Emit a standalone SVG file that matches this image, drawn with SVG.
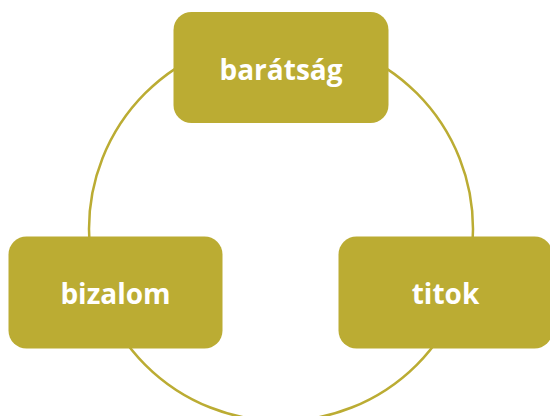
<svg xmlns="http://www.w3.org/2000/svg" width="550" height="416" viewBox="0 0 550 416">
<style>
.node rect{fill:#bbac33}
.node text{fill:#ffffff;font-family:"Open Sans","Noto Sans",sans-serif;font-weight:bold;font-size:28px;text-anchor:middle}
.conn{fill:none;stroke:#bbac33;stroke-width:2.5}
</style>
<rect width="550" height="416" fill="#ffffff"/>
<g id="connectors">
<circle class="conn" cx="281" cy="229" r="192"/>
</g>
<g id="node-baratsag" class="node">
<rect x="173.5" y="12" width="215" height="111" rx="18"/>
<text x="281" y="80">barátság</text>
</g>
<g id="node-bizalom" class="node">
<rect x="8.5" y="236.5" width="214" height="112" rx="18"/>
<text x="115.5" y="304">bizalom</text>
</g>
<g id="node-titok" class="node">
<rect x="338.5" y="236.5" width="214" height="112" rx="18"/>
<text x="445.5" y="304">titok</text>
</g>
</svg>
